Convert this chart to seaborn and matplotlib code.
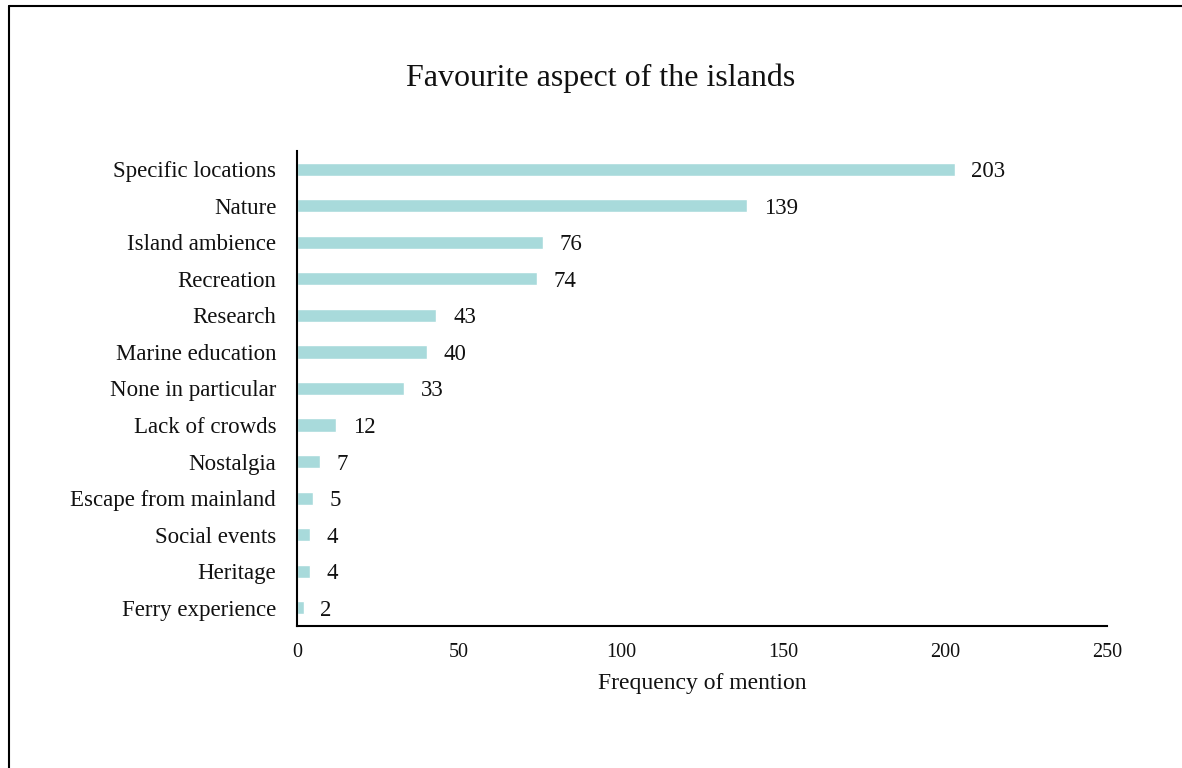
import pandas as pd
import matplotlib.pyplot as plt
from matplotlib.lines import Line2D
import seaborn as sns

# data
aspects = [
    "Specific locations", "Nature", "Island ambience", "Recreation", "Research",
    "Marine education", "None in particular", "Lack of crowds", "Nostalgia",
    "Escape from mainland", "Social events", "Heritage", "Ferry experience",
]
mentions = [203, 139, 76, 74, 43, 40, 33, 12, 7, 5, 4, 4, 2]
x_ticks = [0, 50, 100, 150, 200, 250]

df = pd.DataFrame({"aspect": aspects, "mentions": mentions})

sns.set_style("white")
plt.rcParams['font.family'] = ['Liberation Serif', 'DejaVu Serif']

fig = plt.figure(figsize=(11.82, 7.68), dpi=100)
ax = fig.add_axes([0.2513, 0.1849, 0.6853, 0.6185])

sns.barplot(data=df, y="aspect", x="mentions", color="#a8dadb", saturation=1,
            width=0.36, orient="h", ax=ax)

# value labels
for bar, val in zip(ax.patches, mentions):
    ax.annotate(f"{val}", (bar.get_width(), bar.get_y() + bar.get_height() / 2),
                xytext=(12, 0), textcoords="offset points",
                ha="left", va="center_baseline", fontsize=16.5, color="#111111")

ax.set_xlim(0, 250)
ax.set_ylim(12.5, -0.5)
ax.set_xticks(x_ticks)
ax.tick_params(axis="x", length=0, pad=12, labelsize=14.5, colors="#111111")
ax.tick_params(axis="y", length=0, pad=15, labelsize=16.5, colors="#111111")

for side in ["top", "right"]:
    ax.spines[side].set_visible(False)
for side in ["left", "bottom"]:
    ax.spines[side].set_color("black")
    ax.spines[side].set_linewidth(1.5)

ax.set_ylabel("")
ax.set_xlabel("Frequency of mention", fontsize=17, labelpad=8, color="#111111")

fig.text(0.508, 0.898, "Favourite aspect of the islands", ha="center", va="center",
         fontsize=23, color="#111111")

# chart frame (left and top edges visible)
fig.add_artist(Line2D([0.0072, 0.0072], [0.0, 0.9925], transform=fig.transFigure,
                      color="black", linewidth=1.5))
fig.add_artist(Line2D([0.0072, 1.0], [0.9925, 0.9925], transform=fig.transFigure,
                      color="black", linewidth=1.5))

fig.savefig("out.png", dpi=100)
